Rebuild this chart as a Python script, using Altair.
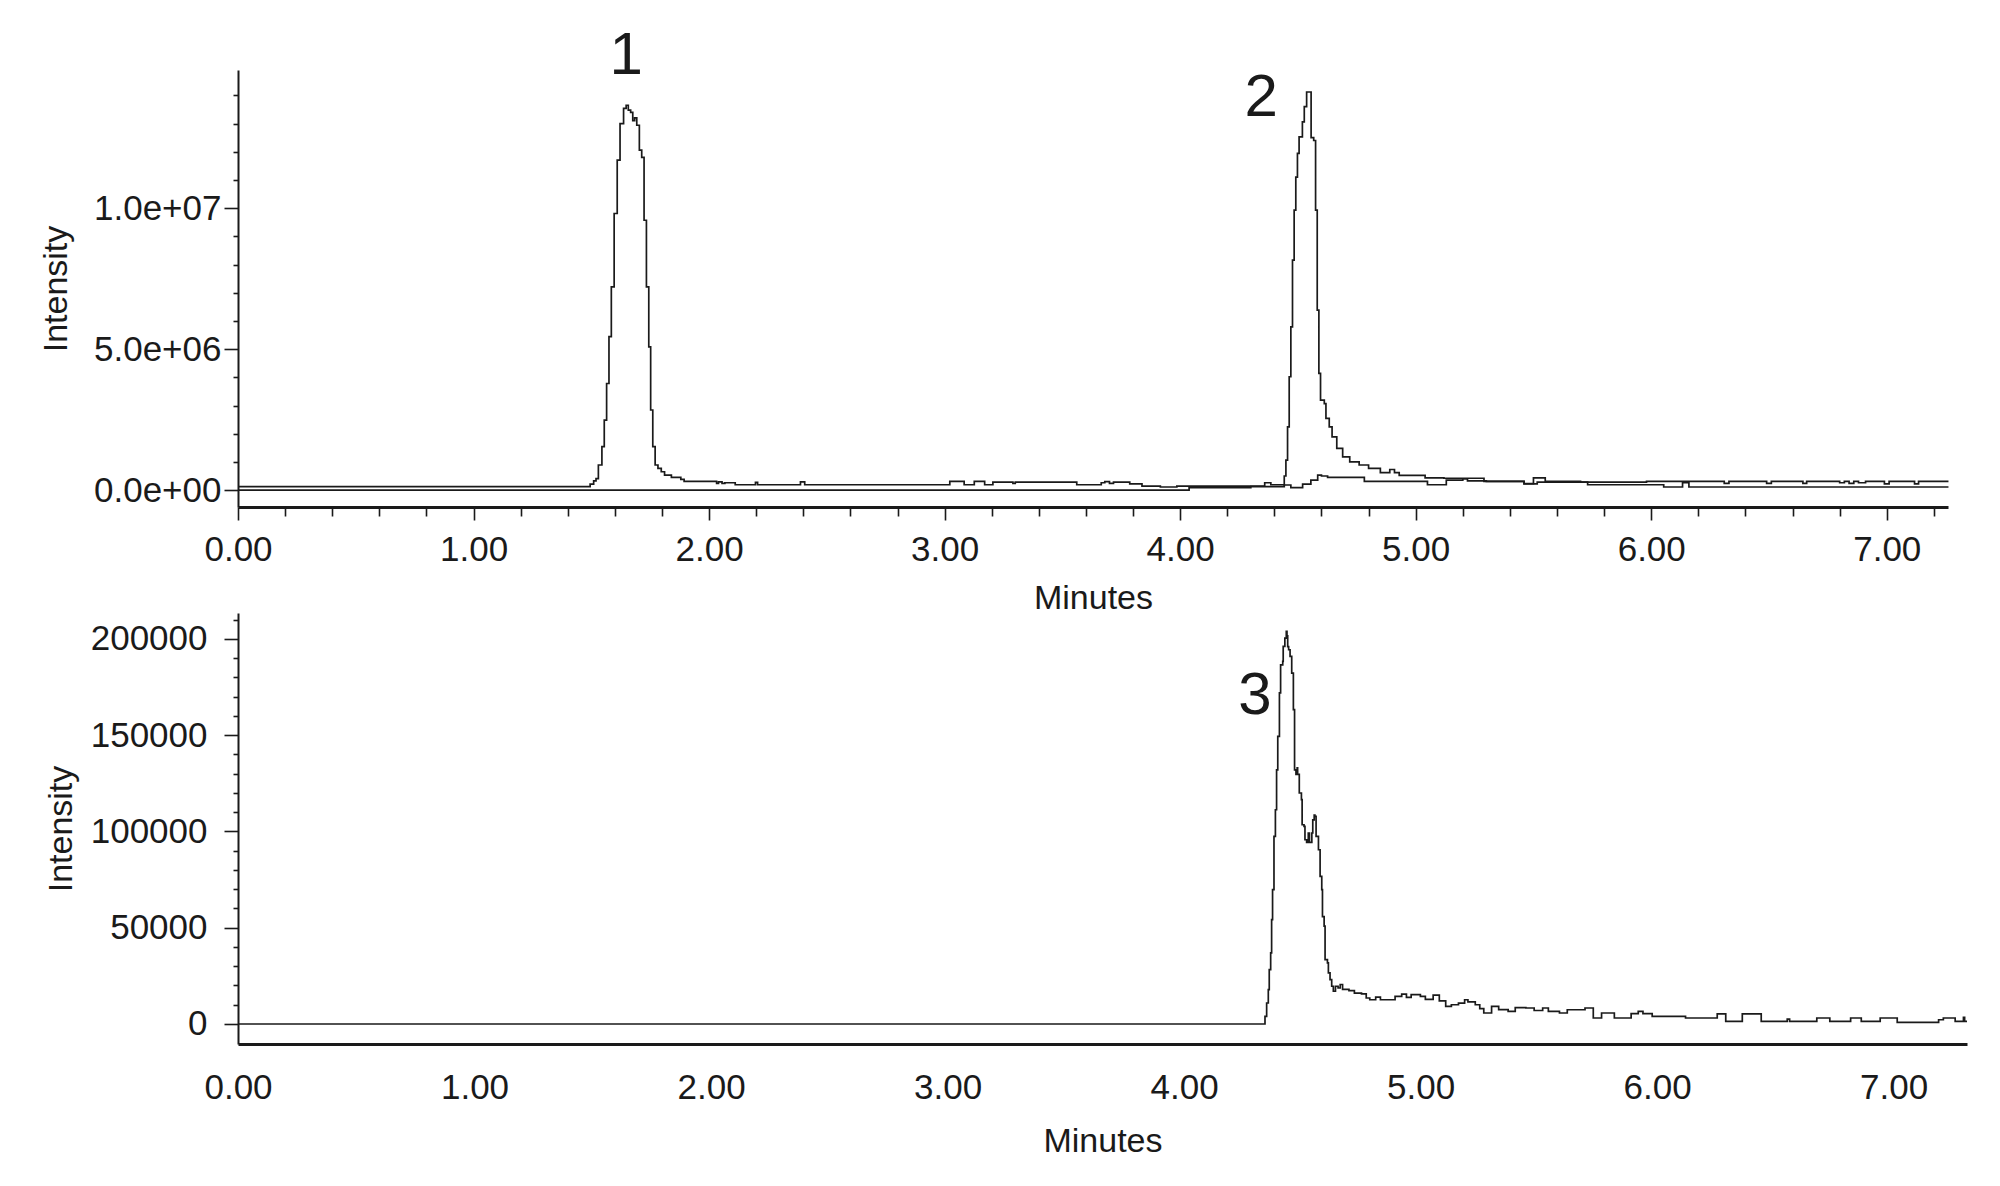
import altair as alt
import pandas as pd

# ---------------- data ----------------
# Top panel, trace A (peak 1), time in minutes, intensity in 1e6 counts
tA = [0.0, 1.495, 1.51, 1.52, 1.53, 1.545, 1.555, 1.565, 1.575, 1.585,
      1.597, 1.61, 1.622, 1.637, 1.648, 1.657, 1.667, 1.676, 1.684, 1.693,
      1.704, 1.714, 1.724, 1.734, 1.744, 1.752, 1.761, 1.771, 1.783, 1.797,
      1.811, 1.84, 1.88, 1.894, 2.032, 2.04, 2.055, 2.067, 2.111, 2.197,
      2.206, 2.388, 2.406, 3.022, 3.083, 3.126, 3.170, 3.205, 3.29, 3.30,
      3.561, 3.665, 3.68, 3.70, 3.717, 3.786, 3.838, 3.916, 3.986, 4.038,
      4.359, 4.385, 4.442, 4.47, 4.52, 4.555, 4.584, 4.60, 4.626, 4.782,
      5.05, 5.13, 5.20, 5.22, 5.30, 5.46, 5.516, 5.73, 6.053, 6.133,
      6.16, 7.262]
vA = [0.12, 0.21, 0.33, 0.41, 0.89, 1.54, 2.48, 3.78, 5.44, 7.21,
      9.81, 11.7, 13.0, 13.54, 13.65, 13.48, 13.4, 13.1, 13.2, 12.94,
      12.06, 11.8, 9.57, 7.21, 5.08, 2.84, 1.54, 0.89, 0.77, 0.65,
      0.53, 0.45, 0.38, 0.31, 0.24, 0.29, 0.24, 0.26, 0.19, 0.27,
      0.19, 0.29, 0.19, 0.31, 0.19, 0.31, 0.19, 0.28, 0.24, 0.28,
      0.19, 0.26, 0.30, 0.24, 0.28, 0.22, 0.14, 0.11, 0.14, 0.14,
      0.26, 0.19, 0.18, 0.09, 0.21, 0.35, 0.53, 0.50, 0.45, 0.31,
      0.19, 0.35, 0.40, 0.33, 0.31, 0.22, 0.28, 0.19, 0.11, 0.26,
      0.11, 0.11]

# Top panel, trace B (peak 2)
tB = [0.0, 4.038, 4.30, 4.442, 4.449, 4.456, 4.463, 4.47, 4.477, 4.484,
      4.491, 4.498, 4.505, 4.519, 4.527, 4.537, 4.556, 4.567, 4.575, 4.582,
      4.589, 4.596, 4.612, 4.619, 4.633, 4.645, 4.665, 4.69, 4.72, 4.76,
      4.80, 4.85, 4.89, 4.91, 4.93, 5.04, 5.12, 5.29, 5.46, 5.50,
      5.55, 5.70, 5.98, 6.31, 6.33, 6.49, 6.51, 6.644, 6.66, 6.80,
      6.82, 6.84, 6.86, 6.88, 6.91, 6.99, 7.01, 7.118, 7.135, 7.262]
vB = [0.0, 0.09, 0.12, 0.5, 1.06, 2.24, 4.02, 5.79, 8.16, 9.93,
      11.1, 11.94, 12.53, 13.06, 13.6, 14.12, 12.5, 12.4, 9.93, 6.38,
      4.14, 3.19, 3.07, 2.54, 2.24, 1.89, 1.48, 1.18, 1.0, 0.89,
      0.77, 0.62, 0.73, 0.62, 0.52, 0.43, 0.42, 0.31, 0.23, 0.43,
      0.31, 0.28, 0.31, 0.24, 0.31, 0.24, 0.31, 0.24, 0.31, 0.26,
      0.31, 0.24, 0.31, 0.26, 0.31, 0.22, 0.31, 0.22, 0.31, 0.31]

# Bottom panel, trace C (peak 3), intensity in thousands
tC = [0.0, 4.335, 4.342, 4.349, 4.356, 4.36, 4.366, 4.37, 4.374, 4.38,
      4.386, 4.391, 4.396, 4.403, 4.408, 4.417, 4.419, 4.426, 4.432, 4.435,
      4.438, 4.442, 4.448, 4.455, 4.462, 4.467, 4.473, 4.478, 4.48, 4.487,
      4.496, 4.499, 4.507, 4.511, 4.518, 4.525, 4.53, 4.54, 4.544, 4.55,
      4.553, 4.558, 4.568, 4.575, 4.582, 4.585, 4.592, 4.596, 4.606, 4.61,
      4.617, 4.624, 4.631, 4.64, 4.651, 4.66, 4.67, 4.697, 4.72, 4.75,
      4.77, 4.785, 4.81, 4.83, 4.874, 4.892, 4.92, 4.94, 4.96, 4.999,
      5.02, 5.053, 5.079, 5.106, 5.13, 5.16, 5.186, 5.20, 5.231, 5.25,
      5.267, 5.30, 5.33, 5.37, 5.40, 5.445, 5.48, 5.516, 5.54, 5.587,
      5.62, 5.66, 5.695, 5.73, 5.765, 5.80, 5.819, 5.89, 5.92, 5.94,
      5.979, 6.12, 6.254, 6.29, 6.36, 6.44, 6.55, 6.56, 6.675, 6.73,
      6.818, 6.863, 6.943, 7.015, 7.19, 7.21, 7.26, 7.295, 7.30, 7.31]
vC = [0, 0, 4.0, 10.9, 17.8, 28.2, 36.9, 54.2, 69.8, 97.5,
      111.3, 132, 149.4, 172, 186.6, 188.4, 196.2, 200.5, 204, 201.6,
      196, 194.4, 191, 182.3, 163.3, 132, 129.7, 133, 129.7, 120,
      116.5, 103.5, 102.7, 95.7, 94.3, 99.2, 94.3, 99.2, 106, 108.5,
      107.8, 97.5, 90.5, 76.7, 69.8, 55.8, 50.8, 33.4, 31.7, 26.5,
      23, 19.6, 17, 19.6, 18.7, 20.5, 18.0, 17.3, 16.0, 15.6,
      13.5, 12.6, 14.0, 12.6, 12.6, 14.3, 15.5, 13.8, 15.2, 14.3,
      12.8, 15.0, 12.0, 9.1, 10.0, 10.8, 12.6, 11.5, 10.0, 8.0,
      5.7, 9.1, 7.5, 6.6, 8.5, 8.3, 7.0, 8.3, 6.5, 5.7,
      7.4, 7.4, 8.3, 3.1, 5.7, 5.7, 3.1, 5.4, 6.6, 5.4,
      4.0, 3.1, 5.2, 1.4, 5.2, 1.4, 2.5, 1.4, 3.1, 1.4,
      3.1, 1.4, 3.1, 0.8, 2.2, 3.1, 1.4, 3.5, 1.4, 1.4]

# peak annotations
top_labels = ["1", "2"]
top_label_t = [1.648, 4.344]
top_label_v = [15.39, 13.9]      # 1e6
bot_labels = ["3"]
bot_label_t = [4.30]
bot_label_v = [170.4]            # thousands

# axis tick values / labels
x_major = [0, 1, 2, 3, 4, 5, 6, 7]
x_minor = [round(i * 0.2, 1) for i in range(0, 37) if i % 5 != 0]
y_top_major = [0, 5000000, 10000000]
y_top_labels = ["0.0e+00", "5.0e+06", "1.0e+07"]
y_top_minor = [i * 1000000 for i in range(0, 15) if i % 5 != 0]
y_bot_major = [0, 50000, 100000, 150000, 200000]
y_bot_minor = [i * 10000 for i in range(0, 22) if i % 5 != 0]

# ---------------- tables ----------------
rows = []
for i, (t, v) in enumerate(zip(tA, vA)):
    rows.append({"t": t, "v": v * 1e6, "trace": "A", "i": i})
for i, (t, v) in enumerate(zip(tB, vB)):
    rows.append({"t": t, "v": v * 1e6, "trace": "B", "i": i})
df_top = pd.DataFrame(rows)
df_bot = pd.DataFrame({"t": tC, "v": [v * 1000 for v in vC], "i": list(range(len(tC)))})
df_top_lab = pd.DataFrame({"t": top_label_t, "v": [v * 1e6 for v in top_label_v], "lab": top_labels})
df_bot_lab = pd.DataFrame({"t": bot_label_t, "v": [v * 1000 for v in bot_label_v], "lab": bot_labels})

INK = "#1a1a1a"
FONT = "Liberation Sans"
FS = 35

ytop_expr = "%s[indexof(%s, datum.value)]" % (str(y_top_labels), str(y_top_major))


def minor_axis(values, orient, size):
    return alt.Axis(values=values, orient=orient, labels=False, domain=False, title=None,
                    tickSize=size, tickWidth=1.6, grid=False)


def panel(df, df_lab, xs, ys, width, height, x_major_axis, y_major_axis, x_minor_size, y_minor_vals, has_detail):
    enc = dict(
        x=alt.X("t:Q", scale=xs, axis=x_major_axis),
        y=alt.Y("v:Q", scale=ys, axis=y_major_axis),
        order="i:Q",
    )
    if has_detail:
        enc["detail"] = "trace:N"
    lines = alt.Chart(df).mark_line(interpolate="step-after", color=INK, strokeWidth=1.7).encode(**enc)
    minor_layers = []
    if x_minor_size > 0:
        minor_layers.append(
            alt.Chart(df).mark_point(opacity=0, size=1).encode(
                x=alt.X("t:Q", scale=xs, axis=minor_axis(x_minor, "bottom", x_minor_size)),
                y=alt.Y("v:Q", scale=ys, axis=None),
            )
        )
    minor_layers.append(
        alt.Chart(df).mark_point(opacity=0, size=1).encode(
            x=alt.X("t:Q", scale=xs, axis=None),
            y=alt.Y("v:Q", scale=ys, axis=minor_axis(y_minor_vals, "left", 5)),
        )
    )
    text = alt.Chart(df_lab).mark_text(font=FONT, fontSize=60, color=INK, baseline="middle", align="center").encode(
        x=alt.X("t:Q", scale=xs, axis=None),
        y=alt.Y("v:Q", scale=ys, axis=None),
        text="lab:N",
    )
    return alt.layer(lines, *minor_layers, text).resolve_axis(x="independent", y="independent").properties(
        width=width, height=height)


xs_top = alt.Scale(domain=[0, 7.26], nice=False, zero=False)
ys_top = alt.Scale(domain=[-0.6e6, 14.9e6], nice=False, zero=False)
xs_bot = alt.Scale(domain=[0, 7.31], nice=False, zero=False)
ys_bot = alt.Scale(domain=[-10400, 213500], nice=False, zero=False)

top_x_axis = alt.Axis(values=x_major, format=".2f", orient="bottom", title="Minutes",
                      labelFlush=False, labelOverlap=False, domainWidth=3,
                      tickSize=13, tickWidth=1.6, labelPadding=12, titlePadding=14)
top_y_axis = alt.Axis(values=y_top_major, labelExpr=ytop_expr, orient="left", title="Intensity",
                      labelFlush=False, labelOverlap=False, domainWidth=2,
                      tickSize=14, tickWidth=1.6, labelPadding=3, titlePadding=20)
bot_x_axis = alt.Axis(values=x_major, format=".2f", orient="bottom", title="Minutes",
                      labelFlush=False, labelOverlap=False, domainWidth=3,
                      ticks=False, labelPadding=26, titlePadding=19)
bot_y_axis = alt.Axis(values=y_bot_major, format="d", orient="left", title="Intensity",
                      labelFlush=False, labelOverlap=False, domainWidth=2,
                      tickSize=14, tickWidth=1.6, labelPadding=17, titlePadding=12)

top = panel(df_top, df_top_lab, xs_top, ys_top, 1710, 437, top_x_axis, top_y_axis, 9, y_top_minor, True)
bottom = panel(df_bot, df_bot_lab, xs_bot, ys_bot, 1729, 431, bot_x_axis, bot_y_axis, 0, y_bot_minor, False)

chart = alt.vconcat(top, bottom, spacing=106, bounds="flush").properties(
    padding={"left": 31, "top": 18, "right": 10, "bottom": 10}
).configure_view(stroke=None).configure_axis(
    grid=False, labelFont=FONT, titleFont=FONT, labelFontSize=FS, titleFontSize=34,
    titleFontWeight="normal", labelColor=INK, titleColor=INK, domainColor=INK, tickColor=INK,
)

chart.save("out.html", embed_options={"renderer": "svg", "actions": False})
